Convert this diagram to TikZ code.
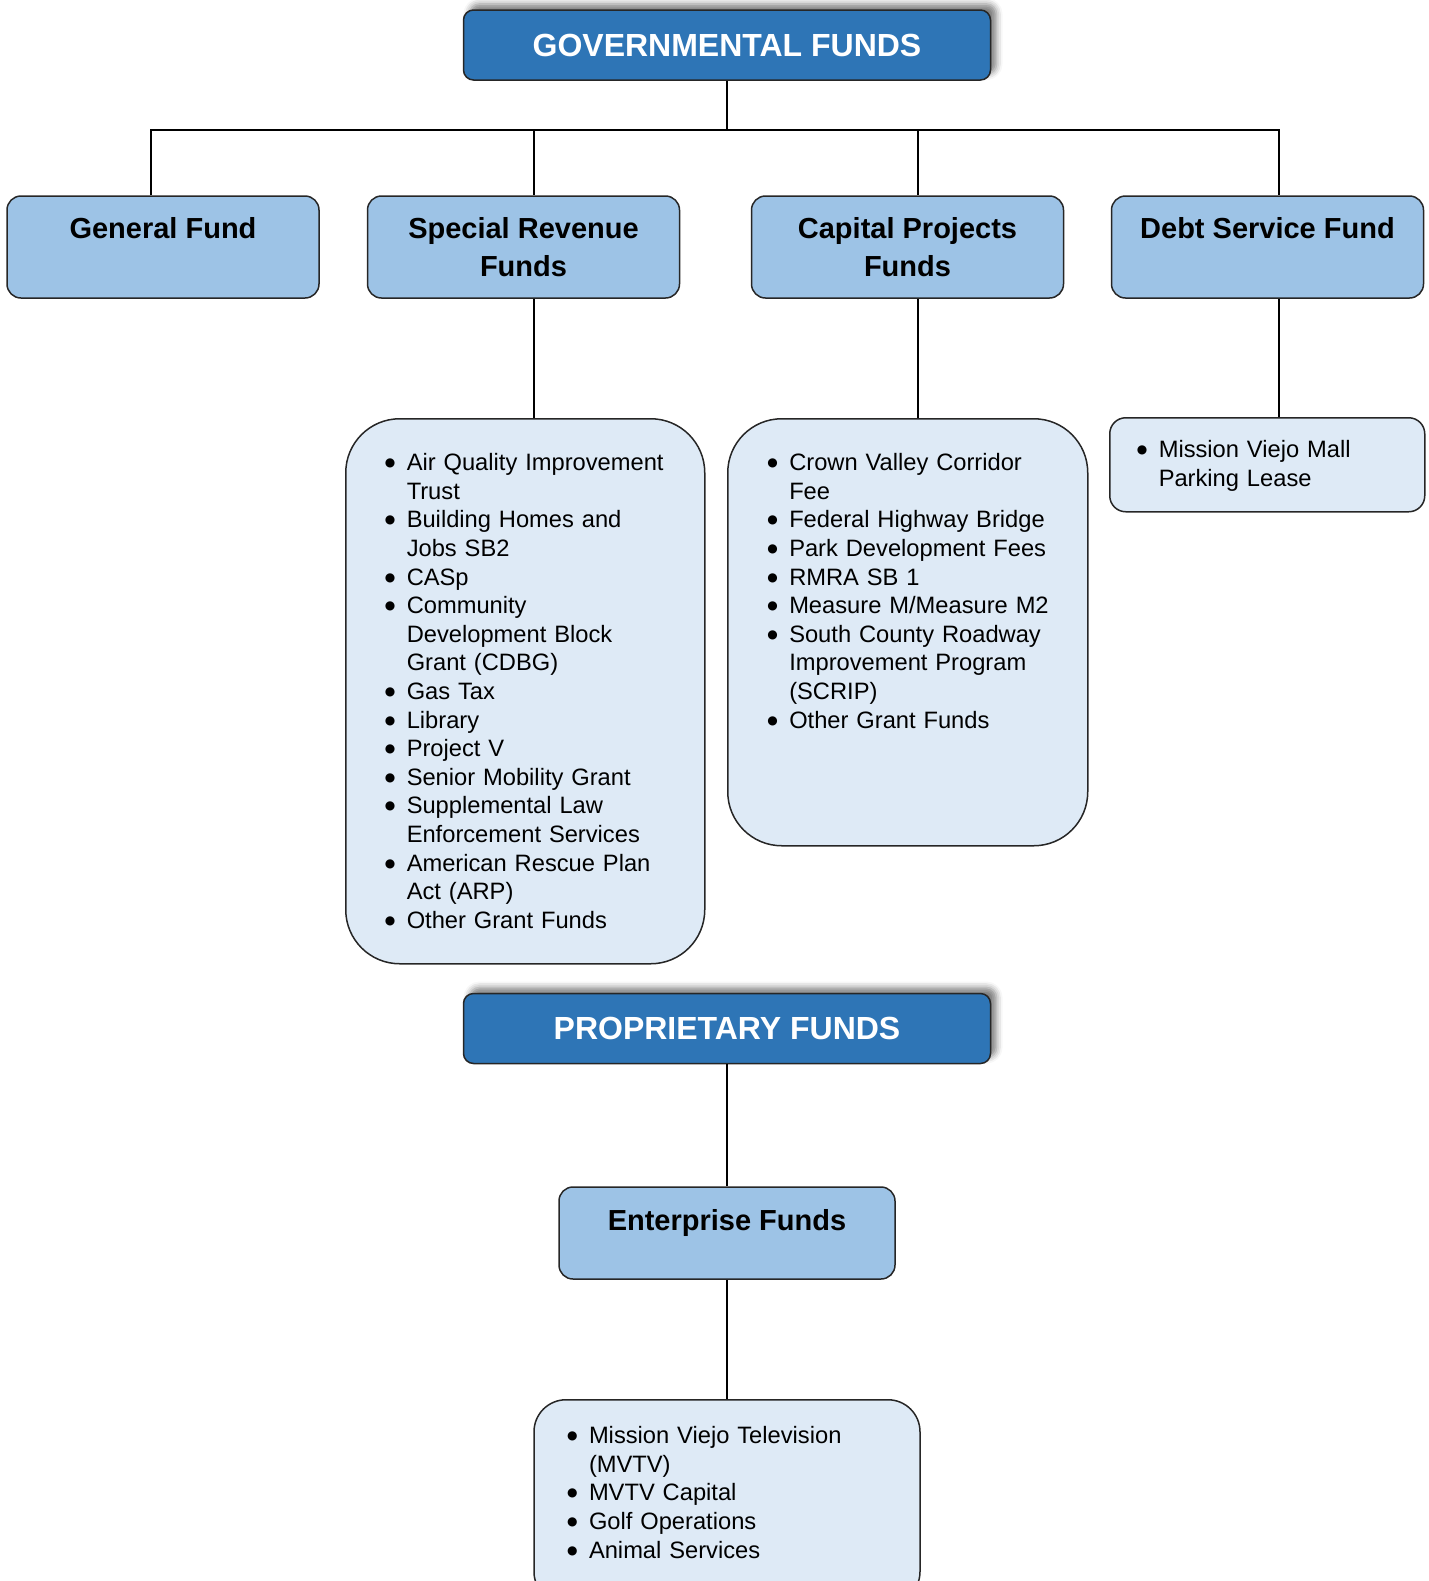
\documentclass[tikz,border=0pt]{standalone}
\usepackage{fontspec}
\setmainfont{Liberation Sans}
\newfontfamily\dotfont{DejaVu Sans}
\usepackage{xcolor}
\usepackage{tikz}
\usetikzlibrary{shadows.blur}

\definecolor{headblue}{RGB}{46,117,182}
\definecolor{fundblue}{RGB}{157,195,230}
\definecolor{listblue}{RGB}{222,234,246}

% bullet line and continuation line
\newcommand{\bitem}[1]{\mbox{\makebox[11pt][l]{\raisebox{2pt}{\fontsize{6}{6}\selectfont\dotfont ●}}#1}}
\newcommand{\bcont}[1]{\mbox{\hspace*{11pt}#1}}

\begin{document}
\begin{tikzpicture}[x=0.5pt, y=-0.5pt,
    conn/.style={line width=1pt},
    headbox/.style={draw=black!85, line width=0.75pt, fill=headblue, rounded corners=5pt,
      minimum width=263.5pt, minimum height=35pt, text=white,
      font=\fontsize{16}{19}\selectfont\bfseries,
      blur shadow={shadow xshift=3pt, shadow yshift=3pt, shadow blur radius=3pt, shadow opacity=50}},
    fundbox/.style={draw=black!85, line width=0.75pt, fill=fundblue, rounded corners=7pt,
      minimum width=156pt, minimum height=51pt, align=center,
      font=\fontsize{14.5}{19}\selectfont\bfseries},
    listbox/.style={draw=black!85, line width=0.75pt, fill=listblue, align=left,
      inner ysep=0pt, anchor=north west, font=\fontsize{11.85}{14.3}\selectfont}]
  \useasboundingbox (0,0) rectangle (1429,1581);

  % Governmental funds
  \node[headbox] (gov) at (727,45) {GOVERNMENTAL FUNDS};
  \coordinate (bus) at (727,130);
  \coordinate (j1) at (151,130);
  \coordinate (j2) at (534,130);
  \coordinate (j3) at (918,130);
  \coordinate (j4) at (1279,130);

  \node[fundbox] (gen) at (163,247) {General Fund\\\mbox{}};
  \node[fundbox] (sr) at (523.5,247) {Special Revenue\\Funds};
  \node[fundbox] (cp) at (907.5,247) {Capital Projects\\Funds};
  \node[fundbox] (ds) at (1267.5,247) {Debt Service Fund\\\mbox{}};

  \draw[conn] (gov.south) -- (bus);
  \draw[conn] (j1 |- gen.north) -- (j1) -- (j4) -- (j4 |- ds.north);
  \draw[conn] (j2) -- (j2 |- sr.north);
  \draw[conn] (j3) -- (j3 |- cp.north);

  % Fund lists
  \node[listbox, rounded corners=27pt, inner xsep=19.5pt, text width=140.5pt,
    text height=26pt, text depth=246.5pt] (srlist) at (345,418) {%
    \bitem{Air Quality Improvement}\\ \bcont{Trust}\\
    \bitem{Building Homes and}\\ \bcont{Jobs SB2}\\
    \bitem{CASp}\\
    \bitem{Community}\\ \bcont{Development Block}\\ \bcont{Grant (CDBG)}\\
    \bitem{Gas Tax}\\
    \bitem{Library}\\
    \bitem{Project V}\\
    \bitem{Senior Mobility Grant}\\
    \bitem{Supplemental Law}\\ \bcont{Enforcement Services}\\
    \bitem{American Rescue Plan}\\ \bcont{Act (ARP)}\\
    \bitem{Other Grant Funds}};

  \node[listbox, rounded corners=27pt, inner xsep=19.75pt, text width=140.5pt,
    text height=26pt, text depth=187.5pt] (cplist) at (727,418) {%
    \bitem{Crown Valley Corridor}\\ \bcont{Fee}\\
    \bitem{Federal Highway Bridge}\\
    \bitem{Park Development Fees}\\
    \bitem{RMRA SB 1}\\
    \bitem{Measure M/Measure M2}\\
    \bitem{South County Roadway}\\ \bcont{Improvement Program}\\ \bcont{(SCRIP)}\\
    \bitem{Other Grant Funds}};

  \node[listbox, rounded corners=8pt, inner xsep=13.5pt, text width=130.5pt,
    text height=20pt, text depth=27pt] (dslist) at (1109,417) {%
    \bitem{Mission Viejo Mall}\\ \bcont{Parking Lease}};

  \draw[conn] (j2 |- sr.south) -- (j2 |- srlist.north);
  \draw[conn] (j3 |- cp.south) -- (j3 |- cplist.north);
  \draw[conn] (j4 |- ds.south) -- (j4 |- dslist.north);

  % Proprietary funds
  \node[headbox] (prop) at (727,1028.5) {PROPRIETARY FUNDS};
  \node[fundbox, minimum width=168pt, minimum height=46pt] (ent) at (727,1233) {Enterprise Funds\\[-6pt]\mbox{}};
  \node[listbox, anchor=north, rounded corners=16pt, inner xsep=16.5pt, text width=160pt,
    text height=22pt, text depth=80pt] (enlist) at (727,1399) {%
    \bitem{Mission Viejo Television}\\ \bcont{(MVTV)}\\
    \bitem{MVTV Capital}\\
    \bitem{Golf Operations}\\
    \bitem{Animal Services}};

  \draw[conn] (prop.south) -- (ent.north);
  \draw[conn] (ent.south) -- (enlist.north);
\end{tikzpicture}
\end{document}
